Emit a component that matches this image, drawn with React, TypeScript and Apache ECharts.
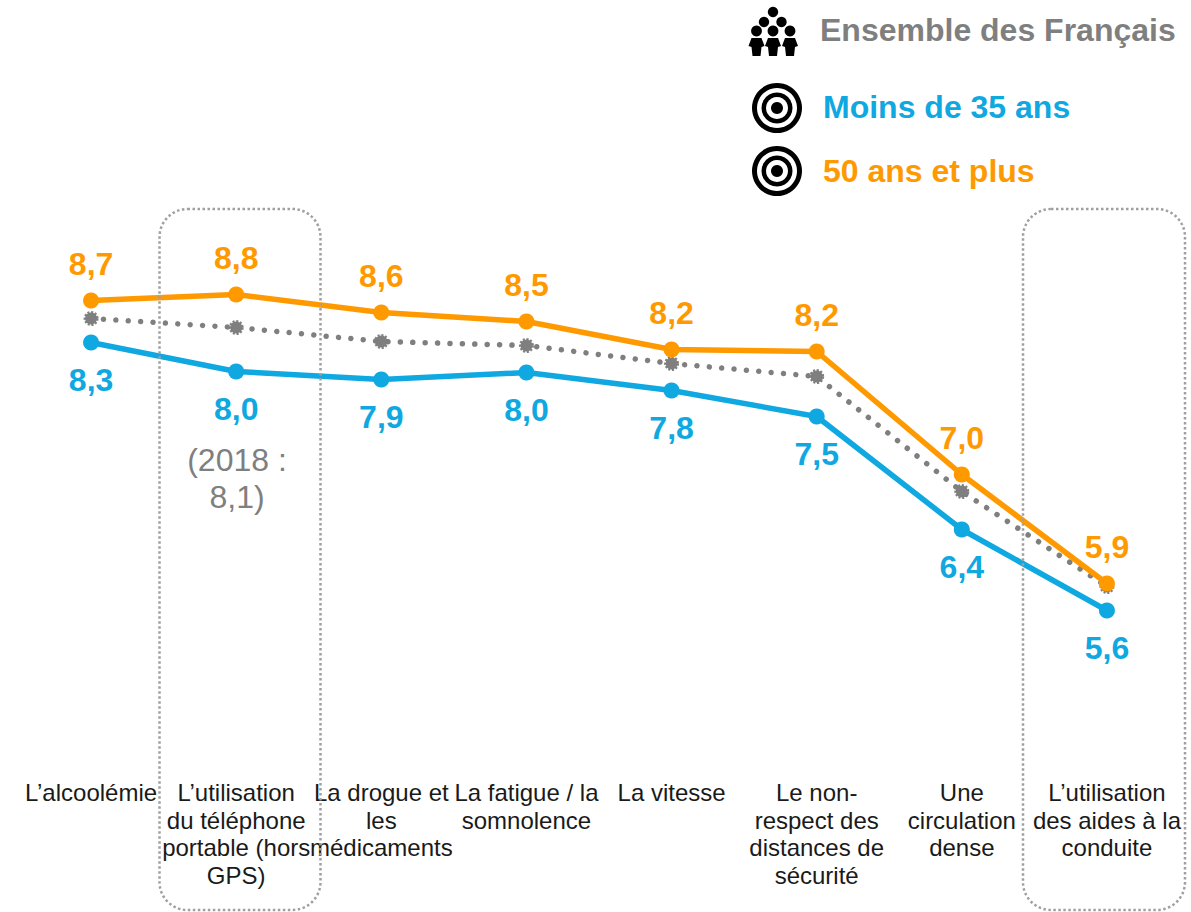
import React, { useEffect, useRef } from "react";
import * as echarts from "echarts";

const categories = [
  "L’alcoolémie",
  "L’utilisation\ndu téléphone\nportable (hors\nGPS)",
  "La drogue et\nles\nmédicaments",
  "La fatigue / la\nsomnolence",
  "La vitesse",
  "Le non-\nrespect des\ndistances de\nsécurité",
  "Une\ncirculation\ndense",
  "L’utilisation\ndes aides à la\nconduite",
];
const ensemble = [8.52, 8.43, 8.29, 8.25, 8.07, 7.94, 6.79, 5.84];
const moins35 = [8.28, 7.99, 7.91, 7.98, 7.8, 7.54, 6.41, 5.6];
const plus50 = [8.7, 8.76, 8.58, 8.49, 8.21, 8.19, 6.96, 5.87];

const FONT = "Liberation Sans";
const GRAY = "#7F7F7F";
const BLUE = "#0FA8E0";
const ORANGE = "#FF9900";

const fmt = (p: any) => Number(p.value).toFixed(1).replace(".", ",");

const target = (cx: number, cy: number) =>
  [
    [25, "#000"],
    [20, "#fff"],
    [15.5, "#000"],
    [11, "#fff"],
    [6, "#000"],
  ].map(([r, fill]) => ({
    type: "circle",
    shape: { cx, cy, r },
    style: { fill },
    silent: true,
  }));

const person = (cx: number) => [
  { type: "circle", shape: { cx, cy: 31, r: 5.4 }, style: { fill: "#000" } },
  {
    type: "polygon",
    shape: {
      points: [
        [cx - 5, 38],
        [cx + 5, 38],
        [cx + 8, 46],
        [cx + 5, 47],
        [cx + 4, 56],
        [cx - 4, 56],
        [cx - 5, 47],
        [cx - 8, 46],
      ],
    },
    style: { fill: "#000" },
  },
];

const legendText = (x: number, y: number, text: string, fill: string) => ({
  type: "text",
  x,
  y,
  style: {
    text,
    fill,
    font: `bold 32px "${FONT}"`,
    verticalAlign: "middle",
  },
});

const box = (x: number, width: number) => ({
  type: "rect",
  shape: { x, y: 209, width, height: 701, r: 28 },
  style: { fill: "none", stroke: "#A0A0A0", lineWidth: 2.5, lineDash: [2.5, 2.5] },
  z: 10,
  silent: true,
});

export default function App() {
  const ref = useRef<HTMLDivElement>(null);
  useEffect(() => {
    const chart = echarts.init(ref.current!, null, { renderer: "svg" });
    chart.setOption({
      animation: false,
      backgroundColor: "#fff",
      grid: { left: 18.5, right: 11.5, top: 170.5, height: 600, containLabel: false },
      xAxis: {
        type: "category",
        data: categories,
        boundaryGap: true,
        axisLine: { show: false },
        axisTick: { show: false },
        splitLine: { show: false },
        axisLabel: {
          interval: 0,
          hideOverlap: false,
          margin: 8.5,
          fontFamily: FONT,
          fontSize: 24,
          lineHeight: 27.5,
          color: "#1A1A1A",
          align: "center",
          verticalAlign: "top",
        },
      },
      yAxis: { type: "value", min: 4, max: 10, show: false, splitLine: { show: false } },
      series: [
        {
          name: "Ensemble des Français",
          type: "line",
          data: ensemble,
          z: 2,
          symbol: "circle",
          symbolSize: 12,
          lineStyle: { color: GRAY, width: 5.5, type: [0.01, 12.4], cap: "round" },
          itemStyle: { color: GRAY, borderColor: GRAY, borderWidth: 3, borderType: [2, 1.5] },
          label: { show: false },
        },
        {
          name: "Moins de 35 ans",
          type: "line",
          data: moins35,
          z: 3,
          symbol: "circle",
          symbolSize: 16,
          lineStyle: { color: BLUE, width: 5.5 },
          itemStyle: { color: BLUE },
          label: {
            show: true,
            position: "bottom",
            distance: 13,
            formatter: fmt,
            color: BLUE,
            fontFamily: FONT,
            fontWeight: "bold",
            fontSize: 32,
          },
        },
        {
          name: "50 ans et plus",
          type: "line",
          data: plus50,
          z: 4,
          symbol: "circle",
          symbolSize: 16,
          lineStyle: { color: ORANGE, width: 5.5 },
          itemStyle: { color: ORANGE },
          label: {
            show: true,
            position: "top",
            distance: 12.5,
            formatter: fmt,
            color: ORANGE,
            fontFamily: FONT,
            fontWeight: "bold",
            fontSize: 32,
          },
        },
      ],
      graphic: [
        box(159.5, 161),
        box(1023, 162),
        ...target(777, 108),
        ...target(777, 171),
        { type: "circle", shape: { cx: 773, cy: 12, r: 5.2 }, style: { fill: "#000" } },
        { type: "circle", shape: { cx: 764, cy: 22, r: 5.2 }, style: { fill: "#000" } },
        { type: "circle", shape: { cx: 781.5, cy: 22, r: 5.2 }, style: { fill: "#000" } },
        ...person(756.5),
        ...person(773),
        ...person(790),
        legendText(820, 30, "Ensemble des Français", GRAY),
        legendText(823, 107, "Moins de 35 ans", BLUE),
        legendText(823, 171, "50 ans et plus", ORANGE),
        {
          type: "text",
          x: 237,
          y: 478,
          style: {
            text: "(2018 :\n8,1)",
            fill: GRAY,
            font: `32px "${FONT}"`,
            lineHeight: 37,
            align: "center",
            verticalAlign: "middle",
          },
        },
      ],
    });
    return () => chart.dispose();
  }, []);
  return (
    <div
      ref={ref}
      style={{ position: "absolute", left: 0, top: 0, width: 1191, height: 912 }}
    />
  );
}
